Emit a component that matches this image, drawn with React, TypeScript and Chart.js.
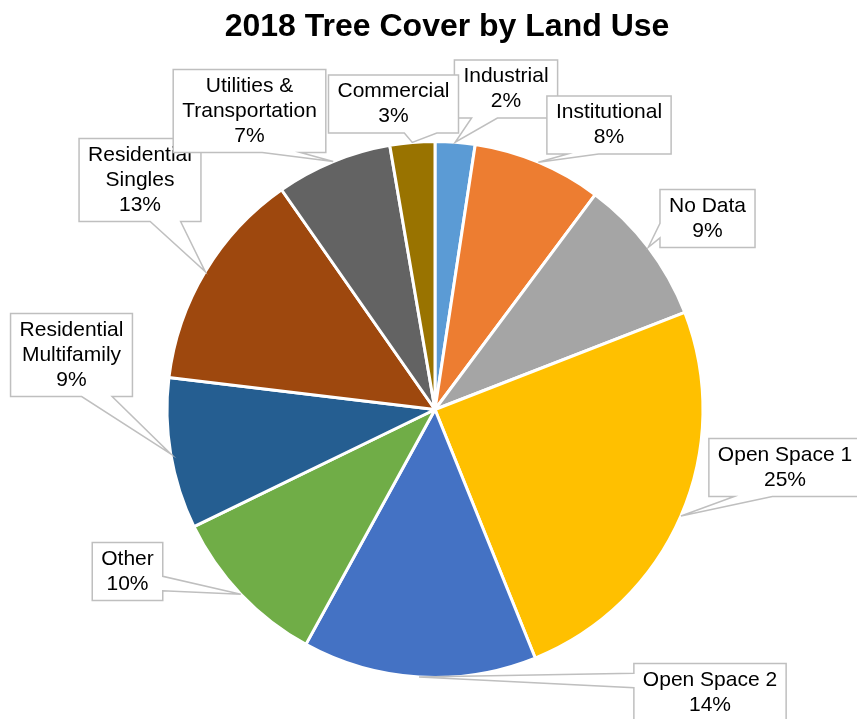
import React, { useEffect, useRef } from 'react';
import { Chart, registerables } from 'chart.js';

Chart.register(...registerables);

const FONT = "'Liberation Sans', Arial, sans-serif";

const chartTitle = '2018 Tree Cover by Land Use';
const categories: string[][] = [
  ['Industrial'],
  ['Institutional'],
  ['No Data'],
  ['Open Space 1'],
  ['Open Space 2'],
  ['Other'],
  ['Residential', 'Multifamily'],
  ['Residential', 'Singles'],
  ['Utilities &', 'Transportation'],
  ['Commercial'],
];
const values = [2.4, 7.8, 8.9, 24.8, 14.1, 9.8, 9.1, 13.4, 7.0, 2.7];
const colors = [
  '#5B9BD5', '#ED7D31', '#A5A5A5', '#FFC000', '#4472C4',
  '#70AD47', '#255E91', '#9E480E', '#636363', '#997300',
];
// callout box centres, as offsets (px) from the pie centre
const calloutOffsets: number[][] = [
  [71, -320.5], [174, -284.5], [272.5, -191], [350, 58], [275, 283],
  [-307.5, 162], [-363.5, -54.5], [-295, -229.5], [-185.5, -298.5], [-41.5, -305.5],
];

const LINE_H = 25;

const calloutPlugin = {
  id: 'callouts',
  afterDatasetsDraw(chart: any) {
    const ctx: CanvasRenderingContext2D = chart.ctx;
    const meta = chart.getDatasetMeta(0);
    const total = values.reduce((a, b) => a + b, 0);
    ctx.save();
    ctx.font = `21px ${FONT}`;
    ctx.lineJoin = 'miter';
    meta.data.forEach((arc: any, i: number) => {
      const p = arc.getProps(['x', 'y', 'startAngle', 'endAngle', 'outerRadius'], true);
      const mid = (p.startAngle + p.endAngle) / 2;
      const tx = p.x + Math.cos(mid) * p.outerRadius;
      const ty = p.y + Math.sin(mid) * p.outerRadius;
      const lines = [...categories[i], Math.round((values[i] / total) * 100) + '%'];
      const tw = Math.max(...lines.map((l) => ctx.measureText(l).width));
      const w = tw + 18;
      const h = lines.length * LINE_H + 8;
      const cx = p.x + calloutOffsets[i][0];
      const cy = p.y + calloutOffsets[i][1];
      const l = cx - w / 2, t = cy - h / 2, r = cx + w / 2, b = cy + h / 2;
      const dx = tx - cx, dy = ty - cy;
      const dq = (dx * h) / w;
      ctx.beginPath();
      if (Math.abs(dy) > Math.abs(dq)) {
        const x1 = l + (w * (dx > 0 ? 7 : 2)) / 12;
        const x2 = l + (w * (dx > 0 ? 10 : 5)) / 12;
        if (dy > 0) {
          ctx.moveTo(l, t); ctx.lineTo(r, t); ctx.lineTo(r, b); ctx.lineTo(x2, b);
          ctx.lineTo(tx, ty); ctx.lineTo(x1, b); ctx.lineTo(l, b);
        } else {
          ctx.moveTo(l, t); ctx.lineTo(x1, t); ctx.lineTo(tx, ty); ctx.lineTo(x2, t);
          ctx.lineTo(r, t); ctx.lineTo(r, b); ctx.lineTo(l, b);
        }
      } else {
        const y1 = t + (h * (dy > 0 ? 7 : 2)) / 12;
        const y2 = t + (h * (dy > 0 ? 10 : 5)) / 12;
        if (dx < 0) {
          ctx.moveTo(l, t); ctx.lineTo(r, t); ctx.lineTo(r, b); ctx.lineTo(l, b);
          ctx.lineTo(l, y2); ctx.lineTo(tx, ty); ctx.lineTo(l, y1);
        } else {
          ctx.moveTo(l, t); ctx.lineTo(r, t); ctx.lineTo(r, y1); ctx.lineTo(tx, ty);
          ctx.lineTo(r, y2); ctx.lineTo(r, b); ctx.lineTo(l, b);
        }
      }
      ctx.closePath();
      ctx.fillStyle = '#FFFFFF';
      ctx.fill();
      ctx.strokeStyle = '#BFBFBF';
      ctx.lineWidth = 1.5;
      ctx.stroke();
      ctx.fillStyle = '#000000';
      ctx.textAlign = 'center';
      ctx.textBaseline = 'middle';
      lines.forEach((line, k) => {
        ctx.fillText(line, cx, t + 4 + LINE_H / 2 + k * LINE_H);
      });
    });
    // title
    ctx.font = `bold 32px ${FONT}`;
    ctx.fillStyle = '#000000';
    ctx.textAlign = 'center';
    ctx.textBaseline = 'middle';
    ctx.fillText(chartTitle, 447, 27);
    ctx.restore();
  },
};

export default function App() {
  const ref = useRef<HTMLCanvasElement>(null);
  useEffect(() => {
    if (!ref.current) return;
    const chart = new Chart(ref.current, {
      type: 'pie',
      data: {
        labels: categories.map((c) => c.join(' ')),
        datasets: [
          {
            data: values,
            backgroundColor: colors,
            borderColor: '#FFFFFF',
            borderWidth: 3,
          },
        ],
      },
      options: {
        responsive: false,
        animation: false,
        layout: { padding: { top: 140, bottom: 40, left: 13, right: 0 } },
        plugins: {
          legend: { display: false },
          tooltip: { enabled: false },
          title: { display: false },
        },
      },
      plugins: [calloutPlugin],
    });
    return () => chart.destroy();
  }, []);
  return (
    <div style={{ position: 'absolute', left: 0, top: 0, width: 857, height: 719, background: '#fff' }}>
      <canvas ref={ref} width={857} height={719} />
    </div>
  );
}
